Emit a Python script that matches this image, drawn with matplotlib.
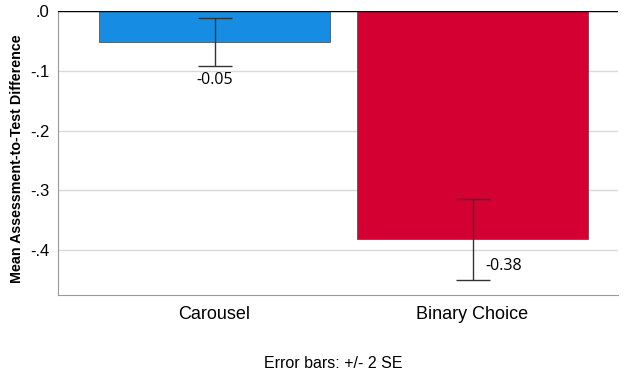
import numpy as np
import matplotlib.pyplot as plt

categories = ["Carousel", "Binary Choice"]
means = [-0.052, -0.382]
err_low = [-0.092, -0.450]
err_high = [-0.012, -0.315]
value_labels = ["-0.05", "-0.38"]
bar_colors = ["#168de2", "#d50032"]
yticks = [0.0, -0.1, -0.2, -0.3, -0.4]
ytick_labels = [".0", "-.1", "-.2", "-.3", "-.4"]

plt.rcParams["font.family"] = ["Liberation Sans", "DejaVu Sans"]

fig = plt.figure(figsize=(6.24, 3.81), dpi=100)
ax = fig.add_axes([58 / 624, 1 - 295 / 381, 560 / 624, 284 / 381])

x = np.arange(len(categories))
ax.bar(x, means, width=0.895, color=bar_colors, edgecolor="#555555", linewidth=0.6, zorder=2)

lo = np.array(means) - np.array(err_low)
hi = np.array(err_high) - np.array(means)
ax.errorbar(x, means, yerr=[lo, hi], fmt="none", ecolor="#333333", elinewidth=1,
            capsize=12, capthick=1, zorder=3)

ax.text(x[0], err_low[0] - 0.01, value_labels[0], ha="center", va="top",
        fontsize=11.5, family=["Open Sans", "DejaVu Sans"])
ax.text(x[1] + 0.05, -0.426, value_labels[1], ha="left", va="center",
        fontsize=11.5, family=["Open Sans", "DejaVu Sans"])

ax.axhline(0, color="black", linewidth=1, zorder=4)
ax.set_xlim(-0.607, 1.564)
ax.set_ylim(-0.475, 0.0)
ax.set_yticks(yticks)
ax.set_yticklabels(ytick_labels, fontsize=12)
ax.set_xticks(x)
ax.set_xticklabels(categories, fontsize=13)
ax.yaxis.grid(True, color="#d9d9d9", linewidth=1, zorder=0)
ax.set_axisbelow(True)
ax.tick_params(length=0, pad=6)
ax.tick_params(axis="x", pad=8)
for side in ["top", "right"]:
    ax.spines[side].set_visible(False)
for side in ["left", "bottom"]:
    ax.spines[side].set_color("#999999")

ax.set_ylabel("Mean Assessment-to-Test Difference", fontsize=10.3, fontweight="bold")
ax.yaxis.set_label_coords(-0.06, 0.48)

fig.text(333 / 624, 1 - 363 / 381, "Error bars: +/- 2 SE", ha="center", va="center", fontsize=11.5)

fig.savefig("out.png", dpi=100)
